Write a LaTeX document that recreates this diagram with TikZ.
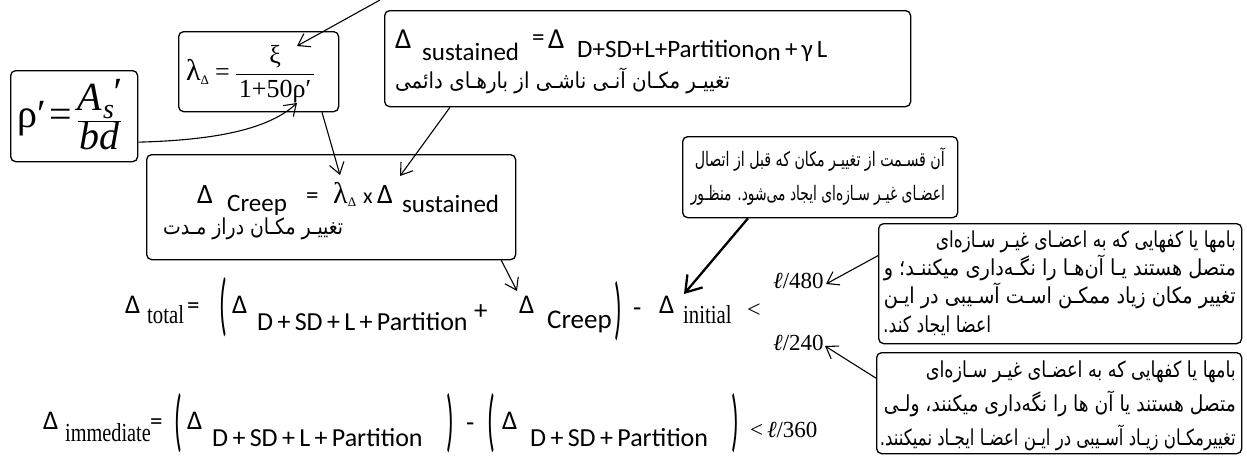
\documentclass[tikz,border=0pt]{standalone}
\usepackage{fontspec}
\usepackage{graphicx}
\usetikzlibrary{arrows.meta,calc}
\TeXXeTstate=1
\newfontfamily\fa[Script=Arabic]{DejaVu Sans}
\newfontfamily\calfont{Carlito}
\newfontfamily\tms{Liberation Serif}
\newcommand\fsz[1]{\fontsize{#1}{#1}\selectfont}
\newcommand\bigpar[1]{\scalebox{0.9}[2.45]{\calfont\fsz{28}#1}}
\newcommand\srf[1]{\scalebox{0.8}[1]{\tms\fsz{26}#1}}
\begin{document}
\begin{tikzpicture}[x=1pt,y=-1pt,
  box/.style={draw,line width=1.3pt,rounded corners=5pt,inner sep=0pt,anchor=north west},
  txt/.style={inner sep=0pt,anchor=base west},
  fatxt/.style={inner sep=0pt,anchor=base east,font=\fa\fsz{22}},
  arr/.style={-{Straight Barb[length=11pt,width=15pt]},line width=1.1pt},
  thickarr/.style={-{Straight Barb[length=15pt,width=20pt]},line width=2.3pt},
  par/.style={inner sep=0pt,anchor=center}]
\useasboundingbox (0,0) rectangle (1247,469);
% boxes
\node[box,minimum width=127pt,minimum height=91pt] (rhobox) at (10,70) {};
\node[box,minimum width=160pt,minimum height=80pt] (lambox) at (178,31) {};
\node[box,minimum width=526pt,minimum height=96pt] (susbox) at (384,10) {};
\node[box,minimum width=369pt,minimum height=105pt] (crpbox) at (146,154) {};
\node[box,minimum width=275pt,minimum height=81pt] (inibox) at (682,136) {};
\node[box,minimum width=363pt,minimum height=120pt] (bxa) at (878,223) {};
\node[box,minimum width=365pt,minimum height=101pt] (bxb) at (876,352) {};
% rho
\node[txt,font=\tms\fsz{40}] (rhotxt) at (17,127) {ρ′\hspace{4pt}=\hspace{4pt}$\displaystyle\frac{\hbox{\itshape A\kern1pt\raisebox{-8pt}{\fsz{28}s}\kern-2pt\raisebox{5pt}{′}}}{\hbox{\itshape bd}}$};
% lambda
\node[txt,font=\tms\fsz{26}] (lamtxt) at (186,80) {{\fsz{30}λ}\raisebox{-4pt}{\fsz{13}Δ}\hspace{6pt}=\hspace{5pt}$\displaystyle\frac{\hbox{ξ}}{\hbox{\hspace{3pt}1+50ρ′\hspace{3pt}}}$};
% sustained
\node[txt,font=\calfont\fsz{29}] (sdA) at (395,48) {Δ};
\node[txt,font=\calfont\fsz{25}] (sdAs) at (422,60) {sustained};
\node[txt,font=\calfont\fsz{25}] (sdeq) at (532,45) {=};
\node[txt,font=\calfont\fsz{29}] (sdB) at (548,48) {Δ};
\node[txt,font=\calfont\fsz{25}] (sdBs) at (577,57) {D+SD+L+Partition\raisebox{-3pt}{on}\,+\,γ\,L};
\node[fatxt,anchor=base west] (sdfa) at (395,88) {\resizebox{335pt}{\height}{\beginR تغییـر مکـان آنـی ناشـی از بارهـای دائمی\endR}};
% creep
\node[txt,font=\calfont\fsz{28}] (crA) at (197,203) {Δ};
\node[txt,font=\calfont\fsz{25}] (crAs) at (227,211) {Creep};
\node[txt,font=\calfont\fsz{25}] (creq) at (306,203) {=};
\node[txt,font=\tms\fsz{30}] (crlam) at (333,203) {λ\raisebox{-3pt}{\fsz{13}Δ}};
\node[txt,font=\calfont\fsz{22}] (crx) at (363,203) {x};
\node[txt,font=\calfont\fsz{28}] (crB) at (377,203) {Δ};
\node[txt,font=\calfont\fsz{25}] (crBs) at (402,212) {sustained};
\node[fatxt,anchor=base west] (crfa) at (163,234) {\resizebox{180pt}{\height}{\beginR تغییـر مکـان دراز مـدت\endR}};
% initial box
\node[fatxt,font=\fa\fsz{20}] (inA) at (945,166) {\resizebox{250pt}{\height}{\beginR آن قسـمت از تغییـر مکان که قبل از اتصال\endR}};
\node[fatxt,font=\fa\fsz{20}] (inB) at (945,200) {\resizebox{254pt}{\height}{\beginR اعضـای غیـر سـازه‌ای ایجاد می‌شود. منظـور\endR}};
% box 480
\node[fatxt] (aA) at (1236,247) {\resizebox{300pt}{\height}{\beginR بامها یا کفهایی که به اعضـای غیـر سـازه‌ای\endR}};
\node[fatxt] (aB) at (1236,275) {\resizebox{352pt}{\height}{\beginR متصل هستند یـا آن‌هـا را نگـه‌داری میکننـد؛ و\endR}};
\node[fatxt] (aC) at (1236,303) {\resizebox{352pt}{\height}{\beginR تغییر مکان زیاد ممکـن اسـت آسـیبی در ایـن\endR}};
\node[fatxt,anchor=base west] (aD) at (883,332) {\resizebox{108pt}{\height}{\beginR اعضا ایجاد کند.\endR}};
% box 240
\node[fatxt] (bA) at (1236,377) {\resizebox{310pt}{\height}{\beginR بامها یا کفهایی که به اعضـای غیـر سـازه‌ای\endR}};
\node[fatxt] (bB) at (1236,411) {\resizebox{352pt}{\height}{\beginR متصل هستند یا آن ها را نگه‌داری میکنند، ولـی\endR}};
\node[fatxt] (bC) at (1236,445) {\resizebox{356pt}{\height}{\beginR تغییرمکـان زیـاد آسـیبی در ایـن اعضـا ایجـاد نمیکنند.\endR}};
% row 1
\node[txt,font=\calfont\fsz{27}] (tA) at (125,313) {Δ};
\node[txt] (tAs) at (147,323) {\srf{total}};
\node[txt,font=\calfont\fsz{25}] (teq) at (187,313) {=};
\node[par] (tpl) at (223,307) {\bigpar{(}};
\node[txt,font=\calfont\fsz{27}] (tB) at (232,313) {Δ};
\node[txt,font=\calfont\fsz{26}] (tBs) at (257,330) {D\,+\,SD\,+\,L\,+\,Partition};
\node[txt,font=\calfont\fsz{27}] (tplus) at (474,319) {+};
\node[txt,font=\calfont\fsz{27}] (tC) at (519,313) {Δ};
\node[txt,font=\calfont\fsz{27}] (tCs) at (547,328) {Creep};
\node[par] (tpr) at (618,311) {\bigpar{)}};
\node[txt,font=\calfont\fsz{27}] (tmin) at (633,316) {-};
\node[txt,font=\calfont\fsz{27}] (tD) at (659,313) {Δ};
\node[txt] (tDs) at (683,323) {\srf{initial}};
\node[txt,font=\tms\fsz{24}] (tlt) at (747,317) {<};
\node[txt,font=\tms\fsz{23}] (lA) at (773,288) {\itshape ℓ\upshape/480};
\node[txt,font=\tms\fsz{23}] (lB) at (773,350) {\itshape ℓ\upshape/240};
% row 2
\node[txt,font=\calfont\fsz{27}] (iA) at (43,429) {Δ};
\node[txt] (iAs) at (65,441) {\scalebox{0.78}[1]{\tms\fsz{26}immediate}};
\node[txt,font=\calfont\fsz{25}] (ieq) at (150,429) {=};
\node[par] (ipl1) at (178,423) {\bigpar{(}};
\node[txt,font=\calfont\fsz{27}] (iB) at (187,429) {Δ};
\node[txt,font=\calfont\fsz{26}] (iBs) at (212,446) {D\,+\,SD\,+\,L\,+\,Partition};
\node[par] (ipr1) at (450,423) {\bigpar{)}};
\node[txt,font=\calfont\fsz{27}] (imin) at (466,431) {-};
\node[par] (ipl2) at (491,423) {\bigpar{(}};
\node[txt,font=\calfont\fsz{27}] (iC) at (502,429) {Δ};
\node[txt,font=\calfont\fsz{26}] (iCs) at (530,446) {D\,+\,SD\,+\,Partition};
\node[par] (ipr2) at (735,423) {\bigpar{)}};
\node[txt,font=\tms\fsz{23}] (ilt) at (750,437) {<\,\itshape ℓ\upshape/360};
% connectors
\coordinate (topsrc) at (380,0);
\coordinate (xitip) at (297,46);
\coordinate (rhotip) at (297,103);
\coordinate (lamtip) at (340,175);
\coordinate (sustip) at (400,176);
\coordinate (crptip) at (517,291);
\coordinate (initip) at (684,294);
\coordinate (tipa) at (826,284);
\coordinate (tipb) at (825,346);
\draw[arr] (topsrc) -- (xitip);
\draw[arr] ($(rhobox.east)+(0,26)$) .. controls (220,140) and (270,128) .. (rhotip);
\draw[arr] ($(lambox.south west)+(144,0)$) -- (lamtip);
\draw[arr] ($(susbox.south west)+(66,0)$) -- (sustip);
\draw[arr] ($(crpbox.south east)+(-15,0)$) -- (crptip);
\draw[thickarr] ($(inibox.south west)+(66,0)$) -- (initip);
\draw[arr] ($(bxa.west)+(0,-28)$) -- (tipa);
\draw[arr] ($(bxb.west)+(0,-25)$) -- (tipb);
\end{tikzpicture}
\end{document}
